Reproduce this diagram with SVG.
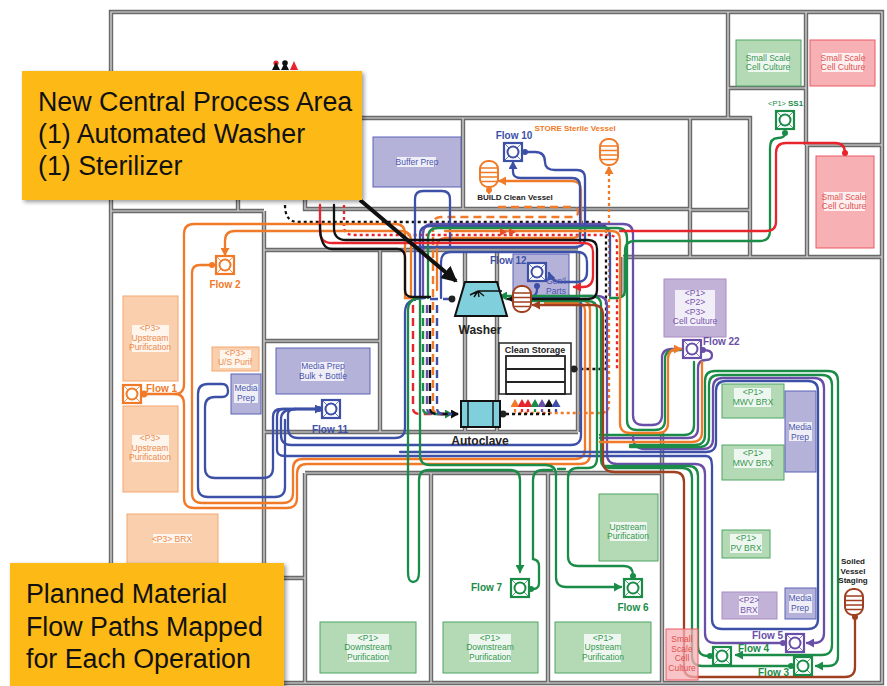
<svg xmlns="http://www.w3.org/2000/svg" xmlns:xlink="http://www.w3.org/1999/xlink" width="887" height="686" viewBox="0 0 887 686">
<style>
text{font-family:"Liberation Sans",Arial,sans-serif}
.wo{fill:none;stroke:#6a6a6a;stroke-width:4.4}
.wi{fill:none;stroke:#dedede;stroke-width:1.2}
.c{fill:none;stroke-width:2.3;stroke-linecap:round}
.or{stroke:#f07a28}.bl{stroke:#3d50a8}.pu{stroke:#6a4fa8}.gr{stroke:#1a8c48}.re{stroke:#e8242c}.bk{stroke:#111}.br{stroke:#9e3f20}
.dash{stroke-dasharray:8 5;stroke-linecap:butt;stroke-width:2.4}
.dot{stroke-dasharray:3 3;stroke-linecap:butt;stroke-width:2.3}
.aO{fill:#f9cfae;stroke:#f4a76f}.aB{fill:#b5b2da;stroke:#5a62b5}.aG{fill:#b3d9b5;stroke:#4fa564}.aR{fill:#f7b0b4;stroke:#ec5a62}.aP{fill:#c3b2d8;stroke:#a88cc0}
.lb{fill:#fff;fill-opacity:.78}
.t{font-size:8.5px;text-anchor:middle}
.tO{fill:#ec8a4a}.tB{fill:#4a55ad}.tG{fill:#35984f}.tR{fill:#e05050}.tP{fill:#7552ad}
.f{font-size:10px;font-weight:bold}
.cO{fill:#f07a28}.cB{fill:#3d50a8}.cG{fill:#1a8c48}.cP{fill:#6a4fa8}.cK{fill:#222}.cR{fill:#e8242c}.cW{fill:#9e3f20}
.call{fill:#fdb913;filter:url(#sh)}
.ct{font-size:26.8px;fill:#111}
.b{fill:#fff;stroke-width:2.2}
.v{fill:#fff;stroke-width:2}
.k{fill:none;stroke:#222;stroke-width:1.8}
</style>
<defs>
<filter id="sh" x="-5%" y="-5%" width="110%" height="110%"><feDropShadow dx="2" dy="2" stdDeviation="2" flood-color="#000" flood-opacity=".4"/></filter>
<marker id="mO" markerUnits="userSpaceOnUse" markerWidth="9" markerHeight="9" refX="7" refY="4.5" orient="auto-start-reverse"><path d="M0 0L8 4.5L0 9z" fill="#f07a28"/></marker>
<marker id="mB" markerUnits="userSpaceOnUse" markerWidth="9" markerHeight="9" refX="7" refY="4.5" orient="auto-start-reverse"><path d="M0 0L8 4.5L0 9z" fill="#3d50a8"/></marker>
<marker id="mP" markerUnits="userSpaceOnUse" markerWidth="9" markerHeight="9" refX="7" refY="4.5" orient="auto-start-reverse"><path d="M0 0L8 4.5L0 9z" fill="#6a4fa8"/></marker>
<marker id="mG" markerUnits="userSpaceOnUse" markerWidth="9" markerHeight="9" refX="7" refY="4.5" orient="auto-start-reverse"><path d="M0 0L8 4.5L0 9z" fill="#1a8c48"/></marker>
<marker id="mR" markerUnits="userSpaceOnUse" markerWidth="9" markerHeight="9" refX="7" refY="4.5" orient="auto-start-reverse"><path d="M0 0L8 4.5L0 9z" fill="#e8242c"/></marker>
<marker id="mK" markerUnits="userSpaceOnUse" markerWidth="9" markerHeight="9" refX="7" refY="4.5" orient="auto-start-reverse"><path d="M0 0L8 4.5L0 9z" fill="#111"/></marker>
<marker id="mW" markerUnits="userSpaceOnUse" markerWidth="9" markerHeight="9" refX="7" refY="4.5" orient="auto-start-reverse"><path d="M0 0L8 4.5L0 9z" fill="#9e3f20"/></marker>
<marker id="mBig" markerUnits="userSpaceOnUse" markerWidth="18" markerHeight="16" refX="14" refY="8" orient="auto"><path d="M0 0L16 8L0 16z" fill="#111"/></marker>
<path id="walls" d="M111 12H882V683H111ZM728 12V118M806 12V145M728 88H806M463 118H750V257M690 118V257M690 210H750M806 145H882M807 145V257M623 257H882M623 257V296M333 118H463M463 118V209M305 200V209H690M238 200V211M111 211H264M264 211V600M264 250H578M380 250V432M264 341H380M264 432H578M465 251V431M497 251V431M578 251V432M305 473H662M305 473V683M431 473V683M548 473V683M662 432V683M264 578H305"/>
<g id="fb"><rect x="-9" y="-9" width="18" height="18" class="b" stroke="currentColor"/><path d="M-9 -9L9 9M9 -9L-9 9" stroke="currentColor" stroke-width=".8"/><circle r="5.5" fill="#fff" stroke="currentColor" stroke-width="2"/></g>
<g id="ves"><rect x="-9" y="-13" width="18" height="26" rx="8" class="v" stroke="currentColor"/><path d="M-9 -6H9M-9 -1.5H9M-9 3H9M-9 7.5H9" stroke="currentColor" stroke-width="1.6"/></g>
</defs>

<g id="building"><use xlink:href="#walls" class="wo"/><use xlink:href="#walls" class="wi"/></g>

<g id="area-upstream-p3-a"><rect class="aO" x="123" y="296" width="55" height="85"/><rect class="lb" x="132" y="325" width="37" height="27"/><text class="t tO" x="150" y="331"><tspan x="150">&lt;P3&gt;</tspan><tspan x="150" dy="9.5">Upstream</tspan><tspan x="150" dy="9.5">Purification</tspan></text></g>
<g id="area-upstream-p3-b"><rect class="aO" x="123" y="406" width="55" height="86"/><rect class="lb" x="132" y="435" width="37" height="27"/><text class="t tO" x="150" y="441"><tspan x="150">&lt;P3&gt;</tspan><tspan x="150" dy="9.5">Upstream</tspan><tspan x="150" dy="9.5">Purification</tspan></text></g>
<g id="area-us-purif"><rect class="aO" x="212" y="347" width="47" height="24"/><rect class="lb" x="220" y="350" width="31" height="18"/><text class="t tO" x="235" y="356"><tspan x="235">&lt;P3&gt;</tspan><tspan x="235" dy="9">U/S Purif</tspan></text></g>
<g id="area-p3-brx"><rect class="aO" x="127" y="514" width="91" height="52"/><rect class="lb" x="153" y="534" width="39" height="9"/><text class="t tO" x="172" y="542">&lt;P3&gt; BRX</text></g>
<g id="area-media-left"><rect class="aB" x="231" y="374" width="30" height="40"/><rect class="lb" x="234" y="384" width="24" height="19"/><text class="t tB" x="246" y="391"><tspan x="246">Media</tspan><tspan x="246" dy="9.5">Prep</tspan></text></g>
<g id="area-media-bulk"><rect class="aB" x="276" y="348" width="94" height="46"/><rect class="lb" x="301" y="362" width="43" height="19"/><text class="t tB" x="323" y="369"><tspan x="323">Media Prep</tspan><tspan x="323" dy="9.5">Bulk + Bottle</tspan></text></g>
<g id="area-buffer"><rect class="aB" x="373" y="137" width="88" height="50"/><rect class="lb" x="397" y="157" width="39" height="10"/><text class="t tB" x="417" y="165">Buffer Prep</text></g>
<g id="area-genl"><rect class="aB" x="513" y="254" width="56" height="46"/></g>
<g id="area-cell-culture"><rect class="aP" x="664" y="279" width="62" height="58"/><rect class="lb" x="675" y="290" width="40" height="36"/><text class="t tP" x="695" y="296"><tspan x="695">&lt;P1&gt;</tspan><tspan x="695" dy="9.3">&lt;P2&gt;</tspan><tspan x="695" dy="9.3">&lt;P3&gt;</tspan><tspan x="695" dy="9.3">Cell Culture</tspan></text></g>
<g id="area-ss-green"><rect class="aG" x="736" y="40" width="65" height="46"/><rect class="lb" x="748" y="53" width="41" height="19"/><text class="t tG" x="768" y="61"><tspan x="768">Small Scale</tspan><tspan x="768" dy="9">Cell Culture</tspan></text></g>
<g id="area-ss-red-top"><rect class="aR" x="810" y="40" width="65" height="46"/><rect class="lb" x="822" y="53" width="41" height="19"/><text class="t tR" x="843" y="61"><tspan x="843">Small Scale</tspan><tspan x="843" dy="9">Cell Culture</tspan></text></g>
<g id="area-ss-red-big"><rect class="aR" x="816" y="156" width="58" height="92"/><rect class="lb" x="824" y="192" width="41" height="19"/><text class="t tR" x="844" y="200"><tspan x="844">Small Scale</tspan><tspan x="844" dy="9">Cell Culture</tspan></text></g>
<g id="area-mwv-a"><rect class="aG" x="722" y="384" width="62" height="34"/><rect class="lb" x="734" y="388" width="37" height="19"/><text class="t tG" x="753" y="395"><tspan x="753">&lt;P1&gt;</tspan><tspan x="753" dy="9.5">MWV BRX</tspan></text></g>
<g id="area-mwv-b"><rect class="aG" x="722" y="445" width="62" height="35"/><rect class="lb" x="734" y="449" width="37" height="19"/><text class="t tG" x="753" y="456"><tspan x="753">&lt;P1&gt;</tspan><tspan x="753" dy="9.5">MWV BRX</tspan></text></g>
<g id="area-media-right"><rect class="aB" x="785" y="391" width="31" height="81"/><rect class="lb" x="789" y="422" width="23" height="19"/><text class="t tB" x="800" y="430"><tspan x="800">Media</tspan><tspan x="800" dy="9.5">Prep</tspan></text></g>
<g id="area-pv-brx"><rect class="aG" x="722" y="530" width="48" height="28"/><rect class="lb" x="730" y="534" width="32" height="19"/><text class="t tG" x="746" y="541"><tspan x="746">&lt;P1&gt;</tspan><tspan x="746" dy="9.5">PV BRX</tspan></text></g>
<g id="area-p2-brx"><rect class="aP" x="722" y="592" width="55" height="27"/><rect class="lb" x="739" y="596" width="19" height="19"/><text class="t tP" x="749" y="603"><tspan x="749">&lt;P2&gt;</tspan><tspan x="749" dy="9.5">BRX</tspan></text></g>
<g id="area-media-low"><rect class="aB" x="785" y="588" width="31" height="31"/><rect class="lb" x="789" y="594" width="23" height="19"/><text class="t tB" x="800" y="601"><tspan x="800">Media</tspan><tspan x="800" dy="9.5">Prep</tspan></text></g>
<g id="area-upstream-top"><rect class="aG" x="599" y="494" width="59" height="67"/><rect class="lb" x="610" y="522" width="37" height="19"/><text class="t tG" x="628" y="530"><tspan x="628">Upstream</tspan><tspan x="628" dy="9">Purification</tspan></text></g>
<g id="area-downstream-a"><rect class="aG" x="320" y="622" width="96" height="51"/><rect class="lb" x="347" y="634" width="42" height="28"/><text class="t tG" x="368" y="641"><tspan x="368">&lt;P1&gt;</tspan><tspan x="368" dy="9.3">Downstream</tspan><tspan x="368" dy="9.3">Purification</tspan></text></g>
<g id="area-downstream-b"><rect class="aG" x="443" y="622" width="95" height="51"/><rect class="lb" x="469" y="634" width="42" height="28"/><text class="t tG" x="490" y="641"><tspan x="490">&lt;P1&gt;</tspan><tspan x="490" dy="9.3">Downstream</tspan><tspan x="490" dy="9.3">Purification</tspan></text></g>
<g id="area-upstream-low"><rect class="aG" x="555" y="622" width="96" height="51"/><rect class="lb" x="584" y="634" width="37" height="28"/><text class="t tG" x="603" y="641"><tspan x="603">&lt;P1&gt;</tspan><tspan x="603" dy="9.3">Upstream</tspan><tspan x="603" dy="9.3">Purification</tspan></text></g>

<g id="connectors">
<path class="c bk dot" d="M285 205Q285 222 298 222H596Q606 222 606 232V369H577"/>
<path class="c re dot" d="M344 205V226Q344 235 354 235H608Q617 235 617 244V369"/>
<path class="c or dash" d="M498 207H572Q578 207 578 212Q578 217 572 217H441Q433 217 433 225V408Q433 414 440 414H455"/>
<path class="c or dot" d="M609 167V405Q609 413 600 413H515" marker-start="url(#mO)"/>
<path class="c or" d="M143 394H175Q184 394 184 384V234Q184 224 194 224H395Q405 224 405 234V298H420"/>
<path class="c or" d="M175 394Q184 394 184 404V498Q184 508 194 508H287Q297 508 297 498V474Q297 464 307 464H580Q590 464 590 454V310Q590 300 580 300H545"/>
<path class="c or" d="M214 265H200Q192 265 192 273V493Q192 503 202 503H283Q293 503 293 493V469Q293 459 303 459H575Q585 459 585 449V310Q585 303 575 303H545"/>
<path class="c or" d="M225 255V241Q225 231 235 231H400Q411 231 411 241V298" marker-start="url(#mO)"/>
<path class="c or" d="M581 190V229Q581 238 572 238H446Q437 238 437 247V290"/><path class="c or" d="M581 190Q581 181 572 181H499" marker-end="url(#mO)"/>
<path class="c or" d="M489 193V186"/>
<path class="c pu" d="M423 298V234Q423 224 433 224H623Q633 224 633 234V415Q633 425 643 425H652Q662 425 662 415V358Q662 349 672 349H681"/>
<path class="c pu" d="M703 350Q712 350 712 355Q712 360 706 360Q698 360 698 368V428Q698 438 688 438H600"/>
<path class="c pu" d="M633 437Q633 449 645 449H703Q713 449 713 439V388Q713 378 723 378H814Q824 378 824 388V633Q824 643 814 643H807" marker-end="url(#mP)"/>
<path class="c pu" d="M783 643H715Q705 643 705 633V474Q705 464 695 464H617Q607 464 607 454V306Q607 296 597 296H582"/>
<path class="c bl" d="M420 298V234Q420 226 430 226H600Q610 226 610 236V296"/>
<path class="c bl" d="M415 300V199Q415 191 423 191H442Q450 191 450 199V247"/>
<path class="c bl" d="M525 152H535Q545 152 545 162Q545 170 555 170H577Q585 170 585 178V238Q585 247 575 247H415"/>
<path class="c bl" d="M513 162V172Q513 178 521 178H572Q580 178 580 186V243" marker-start="url(#mB)"/>
<path class="c bl" d="M441 298V262Q441 252 451 252H577Q587 252 587 262V272Q587 282 577 282H560Q552 282 549 273" marker-end="url(#mB)"/>
<path class="c bl" d="M537 286V290Q537 296 530 297H515"/>
<path class="c bl" d="M425 298Q405 298 405 312V428Q405 438 395 438H298Q288 438 288 428V414Q288 409 296 409H322" marker-end="url(#mB)"/>
<path class="c bl" d="M296 409Q281 409 281 419V435Q281 445 291 445H571Q581 445 581 435V305Q581 297 573 297H515"/>
<path class="c bl" d="M285 456H706Q712 456 712 466V619Q712 629 722 629H808Q818 629 818 619V391Q818 381 808 381H726Q716 381 716 391V442Q716 452 706 452H400"/>
<path class="c bl" d="M322 409H283Q277 409 277 417V450Q277 456 285 456"/>
<path class="c bl" d="M322 409H281Q273 409 273 417V468Q273 478 263 478H215Q205 478 205 468V407Q205 397 215 397H222Q228 397 228 391Q228 384 222 384H208Q198 384 198 394V487Q198 497 208 497H275Q285 497 285 487V420"/>
<path class="c gr" d="M428 298V238Q428 228 438 228H617Q627 228 627 238V420Q627 430 637 430H655Q665 430 665 420V359Q665 350 675 350H681"/>
<path class="c gr" d="M694 362V425Q694 435 684 435H600"/>
<path class="c gr" d="M418 298Q408 300 408 310V572Q408 582 413 582Q419 582 419 572V480Q419 470 429 470H510Q520 470 520 480V572" marker-end="url(#mG)"/>
<path class="c gr" d="M420 300V455Q420 465 430 465H545Q556 465 556 475V577Q556 587 566 587H621" marker-end="url(#mG)"/>
<path class="c gr" d="M531 589H533Q539 589 539 583V566Q539 560 533 559V480Q533 470 543 470H552"/>
<path class="c gr" d="M558 469H565M578 468Q568 468 568 478V556Q568 566 578 566H624Q633 566 633 575V577"/>
<path class="c gr" d="M578 468H588Q597 468 597 458V310Q597 301 588 301H520"/>
<path class="c gr" d="M791 666H702Q692 666 692 656V478Q692 468 682 468H610Q601 468 601 460V305Q601 296 591 296H500" marker-end="url(#mG)"/>
<path class="c gr" d="M710 656H708Q698 656 698 646V476Q698 466 688 466H605"/>
<path class="c gr" d="M630 445H695Q705 445 705 435V381Q705 371 715 371H828Q838 371 838 381V656Q838 666 828 666H816" marker-end="url(#mG)"/>
<path class="c gr" d="M630 447H699Q709 447 709 437V385Q709 375 719 375H822Q832 375 832 385V645Q832 655 822 655H736" marker-end="url(#mG)"/>
<path class="c gr" d="M785 133Q785 138 778 138Q770 138 770 148V231Q770 241 760 241H635Q625 241 625 251V290Q625 298 617 298H610"/>
<path class="c br" d="M855 617V667Q855 677 845 677H694Q684 677 684 667V482Q684 472 674 472H615Q603 472 603 462V315Q603 305 593 305H533" marker-end="url(#mW)"/>
<path class="c or" d="M445 231H612Q620 231 620 240V423Q620 433 630 433H658Q668 433 668 423V359Q668 349 678 349H681" marker-end="url(#mO)"/>
<path class="c or" d="M600 442H692Q702 442 702 432V362"/>
<path class="c re" d="M845 153Q845 143 835 143H786Q776 143 776 153V222Q776 231 766 231H620"/>
<path class="c re" d="M320 205V231Q320 243 332 243H584Q593 243 593 252V276Q593 287 583 287H574" marker-end="url(#mR)"/>
<path class="c bk" d="M334 205V228Q334 240 346 240H588Q597 240 597 249V290Q597 299 588 299H508" marker-end="url(#mK)"/>
<path class="c bk" d="M320 225Q320 249 332 249H397Q405 249 405 258V290Q405 297 413 297H430"/>
<path class="c bl dash" d="M430 299H450"/>
<path class="c re dash" d="M413 305V408Q413 414 420 414H445"/>
<path class="c gr dash" d="M423 305V408Q423 414 430 414H452" marker-end="url(#mG)"/>
<path class="c pu dash" d="M427 305V408Q427 414 434 414H450"/>
<path class="c bk dash" d="M430 305V408Q430 414 437 414H458" marker-end="url(#mK)"/>
<path class="c bl dash" d="M437 305V408Q437 414 444 414H452"/>
<path class="c bk dot" d="M506 414H550"/>
<path class="c or dot" d="M515 412V400" marker-end="url(#mO)"/>
<path class="c re dot" d="M522 412V400" marker-end="url(#mR)"/>
<path class="c re dot" d="M528 412V400" marker-end="url(#mR)"/>
<path class="c gr dot" d="M535 412V400" marker-end="url(#mG)"/>
<path class="c pu dot" d="M542 412V400" marker-end="url(#mP)"/>
<path class="c bk dot" d="M549 412V400" marker-end="url(#mK)"/>
<path class="c bl dot" d="M556 412V400" marker-end="url(#mB)"/>
<path d="M500 228L507 232L500 236zM509 228L516 232L509 236z" fill="#e8502c"/>
<g><circle cx="212" cy="265" r="3" class="cO"/><circle cx="144" cy="394" r="3.4" class="cO"/><circle cx="525" cy="152" r="3" class="cB"/><circle cx="319" cy="409" r="3" class="cB"/><circle cx="537" cy="286" r="3" class="cB"/><circle cx="703" cy="350" r="3" class="cP"/><circle cx="783" cy="643" r="3" class="cP"/><circle cx="710" cy="656" r="3" class="cG"/><circle cx="791" cy="666" r="3" class="cG"/><circle cx="531" cy="589" r="3" class="cG"/><circle cx="633" cy="576" r="3" class="cG"/><circle cx="785" cy="133" r="3" class="cG"/><circle cx="845" cy="153" r="3" class="cR"/><circle cx="855" cy="617" r="3" class="cW"/><circle cx="489" cy="190" r="3" class="cO"/><circle cx="452" cy="299" r="3.4" class="cK"/><circle cx="574" cy="369" r="3.4" class="cK"/><circle cx="503" cy="414" r="3.4" class="cK"/></g>
</g>

<g id="area-ss-red-low"><rect class="aR" x="666" y="629" width="32" height="51" fill-opacity=".75"/><text class="t tR" x="682" y="642"><tspan x="682">Small</tspan><tspan x="682" dy="9.5">Scale</tspan><tspan x="682" dy="9.5">Cell</tspan><tspan x="682" dy="9.5">Culture</tspan></text></g>
<g id="genl-label"><text class="t tB" x="556" y="284"><tspan x="556">Gen'l</tspan><tspan x="556" dy="9.5">Parts</tspan></text></g>

<g id="flow-1" style="color:#f07a28"><use xlink:href="#fb" x="132" y="394"/><text class="f cO" x="146" y="392">Flow 1</text></g>
<g id="flow-2" style="color:#f07a28"><use xlink:href="#fb" x="225" y="265"/><text class="f cO" x="225" y="288" text-anchor="middle">Flow 2</text></g>
<g id="flow-10" style="color:#3d50a8"><use xlink:href="#fb" x="513" y="152"/><text class="f cB" x="514" y="139" text-anchor="middle">Flow 10</text></g>
<g id="flow-11" style="color:#3d50a8"><use xlink:href="#fb" x="331" y="409"/><text class="f cB" x="330" y="433" text-anchor="middle">Flow 11</text></g>
<g id="flow-12" style="color:#3d50a8"><use xlink:href="#fb" x="537" y="272"/><text class="f cB" x="490" y="264">Flow 12</text></g>
<g id="flow-22" style="color:#6a4fa8"><use xlink:href="#fb" x="692" y="349"/><text class="f cP" x="703" y="345">Flow 22</text></g>
<g id="flow-7" style="color:#1a8c48"><use xlink:href="#fb" x="520" y="588"/><text class="f cG" x="471" y="591">Flow 7</text></g>
<g id="flow-6" style="color:#1a8c48"><use xlink:href="#fb" x="633" y="588"/><text class="f cG" x="633" y="611" text-anchor="middle">Flow 6</text></g>
<g id="flow-5" style="color:#6a4fa8"><use xlink:href="#fb" x="795" y="643"/><text class="f cP" x="752" y="639">Flow 5</text></g>
<g id="flow-4" style="color:#1a8c48"><use xlink:href="#fb" x="722" y="656"/><text class="f cG" x="738" y="652">Flow 4</text></g>
<g id="flow-3" style="color:#1a8c48"><use xlink:href="#fb" x="803" y="666"/><text class="f cG" x="758" y="676">Flow 3</text></g>
<g id="ss1" style="color:#1a8c48"><use xlink:href="#fb" x="785" y="120"/><text class="cG" x="768" y="106" font-size="8"><tspan font-size="7.5">&lt;P1&gt; </tspan><tspan font-weight="bold">SS1</tspan></text></g>

<g id="vessel-build" style="color:#f07a28"><use xlink:href="#ves" x="489" y="174"/><text x="515" y="200" text-anchor="middle" font-size="8" font-weight="bold" fill="#222">BUILD Clean Vessel</text></g>
<g id="vessel-store" style="color:#f07a28"><use xlink:href="#ves" x="609" y="152"/><text class="cO" x="575" y="131" text-anchor="middle" font-size="8" font-weight="bold">STORE Sterile Vessel</text></g>
<g id="vessel-genl" style="color:#9e3f20"><use xlink:href="#ves" x="522" y="299"/></g>
<g id="vessel-soiled" style="color:#9e3f20"><use xlink:href="#ves" x="854" y="602"/><text x="853" y="564" text-anchor="middle" font-size="8" font-weight="bold" fill="#222"><tspan x="853">Soiled</tspan><tspan x="853" dy="9.5">Vessel</tspan><tspan x="853" dy="9.5">Staging</tspan></text></g>

<g id="washer"><path d="M465 282H497L507 316H455Z" fill="#7fd0dc" stroke="#111" stroke-width="2"/><path d="M478 291H502M478 291L470 295M478 291L474 297M478 291L479 297M478 291L484 296" stroke="#111" stroke-width="1.4" fill="none"/><text x="480" y="334" text-anchor="middle" font-size="12" font-weight="bold" fill="#222">Washer</text></g>
<g id="autoclave"><rect x="461" y="401" width="39" height="26" fill="#7fd0dc" stroke="#111" stroke-width="2"/><path d="M468 401V427M493 401V427" stroke="#111" stroke-width="1.4"/><text x="480" y="445" text-anchor="middle" font-size="12" font-weight="bold" fill="#222">Autoclave</text></g>
<g id="clean-storage"><rect x="499" y="343" width="72" height="51" fill="#fff" stroke="#333" stroke-width="1.6"/><rect x="506" y="356" width="59" height="38" fill="#fff" class="k"/><path d="M506 369H565M506 382H565" class="k"/><text x="535" y="353" text-anchor="middle" font-size="9" font-weight="bold" fill="#222">Clean Storage</text></g>

<g id="top-marks"><circle cx="276" cy="63" r="2.6" fill="#e8242c"/><path d="M272 70L276 62L280 70z" fill="#111"/><circle cx="285" cy="63" r="2.8" fill="#111"/><path d="M281 70L285 62L289 70z" fill="#111"/><path d="M290 70L294 61L298 70z" fill="#e8242c"/></g>

<g id="callout-arrow"><path d="M360 200L456 281" stroke="#111" stroke-width="4" fill="none" marker-end="url(#mBig)"/></g>
<g id="callout-top"><rect class="call" x="22" y="71" width="340" height="129"/><text class="ct" x="38" y="111">New Central Process Area</text><text class="ct" x="38" y="143">(1) Automated Washer</text><text class="ct" x="38" y="175">(1) Sterilizer</text></g>
<g id="callout-bottom"><rect class="call" x="10" y="563" width="274" height="123"/><text class="ct" x="26" y="603">Planned Material</text><text class="ct" x="26" y="636">Flow Paths Mapped</text><text class="ct" x="26" y="668">for Each Operation</text></g>
</svg>
